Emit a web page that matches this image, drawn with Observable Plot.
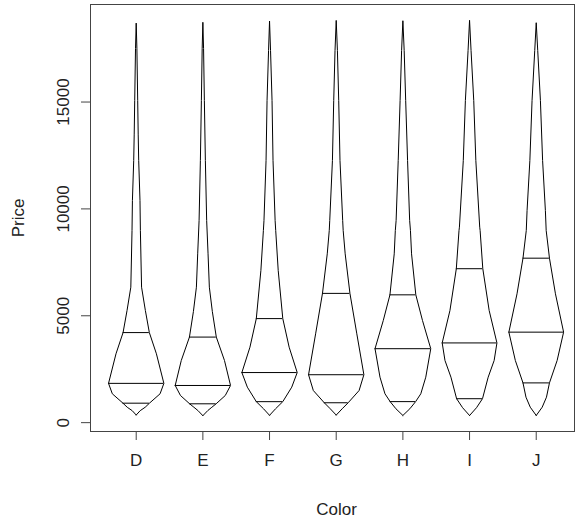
<!DOCTYPE html>
<html><head><meta charset="utf-8">
<script src="https://cdn.jsdelivr.net/npm/d3@7"></script>
<script src="https://cdn.jsdelivr.net/npm/@observablehq/plot@0.6"></script>
<style>body{margin:0;background:#fff}</style>
</head><body><div id="chart"></div>
<script>
const colors = ["D", "E", "F", "G", "H", "I", "J"];
const q1 = [911, 882, 982, 931, 984, 1120, 1860];
const medians = [1838, 1739, 2344, 2242, 3460, 3730, 4234];
const q3 = [4214, 4003, 4868, 6048, 5980, 7202, 7695];
const yTicks = [0, 5000, 10000, 15000];

// violin density profiles: [price, relative density (max ≈ 28)]
const violinD = [[357,0],[560,4],[720,9],[911,13.3],[1350,24],[1838,27.8],[3221,20.3],[4214,13.2],[5247,9.2],[6338,5.4],[8990,4.2],[10390,3.8],[12265,2.5],[13500,2],[15072,1.5],[17500,0.7],[18693,0]];
const violinE = [[326,0],[568,5],[720,9],[882,13.3],[1270,22.5],[1739,27.8],[2908,21.7],[4003,13.5],[5200,9.5],[6338,6.5],[7898,5.2],[9457,3.8],[12265,2.5],[15072,1.5],[17500,0.7],[18731,0]];
const violinF = [[342,0],[648,6],[982,13.3],[1660,22.3],[2344,27.8],[3531,19.7],[4868,13.3],[7118,8.7],[8990,6.2],[9457,5.6],[12265,3.5],[15072,2.5],[17410,1],[18791,0]];
const violinG = [[354,0],[650,6],[931,12],[1504,23],[2242,27.8],[4155,20.7],[6048,13.8],[7898,9],[8990,7],[9457,6.5],[12265,3.8],[15072,2.5],[17410,1.2],[18818,0]];
const violinH = [[337,0],[650,7],[984,12.8],[1350,18],[2127,23],[3460,28],[4779,19.7],[5980,13],[7898,8.7],[8990,7.6],[9457,6.8],[12265,4.7],[15072,2.8],[17410,1.3],[18803,0]];
const violinI = [[334,0],[700,7],[1120,13],[2127,18.7],[2908,24.7],[3730,27.5],[5247,19.7],[7202,13.3],[8990,10.6],[9145,10.2],[12265,6.3],[15072,4.2],[17410,1.5],[18823,0]];
const violinJ = [[335,0],[723,6],[1192,10.3],[1860,13.3],[2908,21],[4234,27.5],[6028,19.3],[7695,13.3],[8990,10],[9925,9.2],[12265,6.4],[15072,4.2],[17410,1.5],[18710,0]];
const profiles = [violinD, violinE, violinF, violinG, violinH, violinI, violinJ];

const halfMax = 0.418;
const toHalf = d => d / 28 * halfMax;
function interp(prof, p) {
  for (let k = 1; k < prof.length; k++) {
    if (p <= prof[k][0]) {
      const [p0, d0] = prof[k - 1], [p1, d1] = prof[k];
      return d0 + (d1 - d0) * (p - p0) / (p1 - p0);
    }
  }
  return 0;
}

const outline = [];
profiles.forEach((prof, i) => {
  const cx = i + 1;
  prof.forEach(([p, d]) => outline.push({color: colors[i], x: cx + toHalf(d), y: p}));
  prof.slice().reverse().forEach(([p, d]) => outline.push({color: colors[i], x: cx - toHalf(d), y: p}));
});
const qlines = [];
colors.forEach((c, i) => {
  [q1[i], medians[i], q3[i]].forEach(p => {
    const h = toHalf(interp(profiles[i], p));
    qlines.push({color: c, y: p, x1: i + 1 - h, x2: i + 1 + h});
  });
});

const chart = Plot.plot({
  width: 575, height: 525,
  marginLeft: 90, marginRight: 1, marginTop: 4, marginBottom: 94,
  style: {fontFamily: "'Liberation Sans', Arial, sans-serif", fontSize: "17px", color: "#222", background: "#fff"},
  x: {domain: [0.3145, 7.574], axis: null},
  y: {domain: [-414, 19563], axis: null},
  marks: [
    Plot.line(outline, {x: "x", y: "y", z: "color", stroke: "#000", strokeWidth: 1}),
    Plot.ruleY(qlines, {y: "y", x1: "x1", x2: "x2", stroke: "#000", strokeWidth: 1}),
    Plot.frame({stroke: "#444"}),
    Plot.axisX(d3.range(1, 8), {tickSize: 9, tickPadding: 13, stroke: "#444", label: null, tickFormat: v => colors[v - 1]}),
    Plot.axisY(yTicks, {tickSize: 9, tickPadding: 13, tickRotate: -90, stroke: "#444", label: null, tickFormat: d3.format("d")}),
    Plot.text(["Price"], {frameAnchor: "left", dx: -72, rotate: -90, textAnchor: "middle", lineAnchor: "middle", fill: "#222"}),
    Plot.text(["Color"], {frameAnchor: "bottom", dy: 83, dx: 4, textAnchor: "middle", lineAnchor: "bottom", fill: "#222"})
  ]
});
document.getElementById("chart").appendChild(chart);
</script>
</body></html>
